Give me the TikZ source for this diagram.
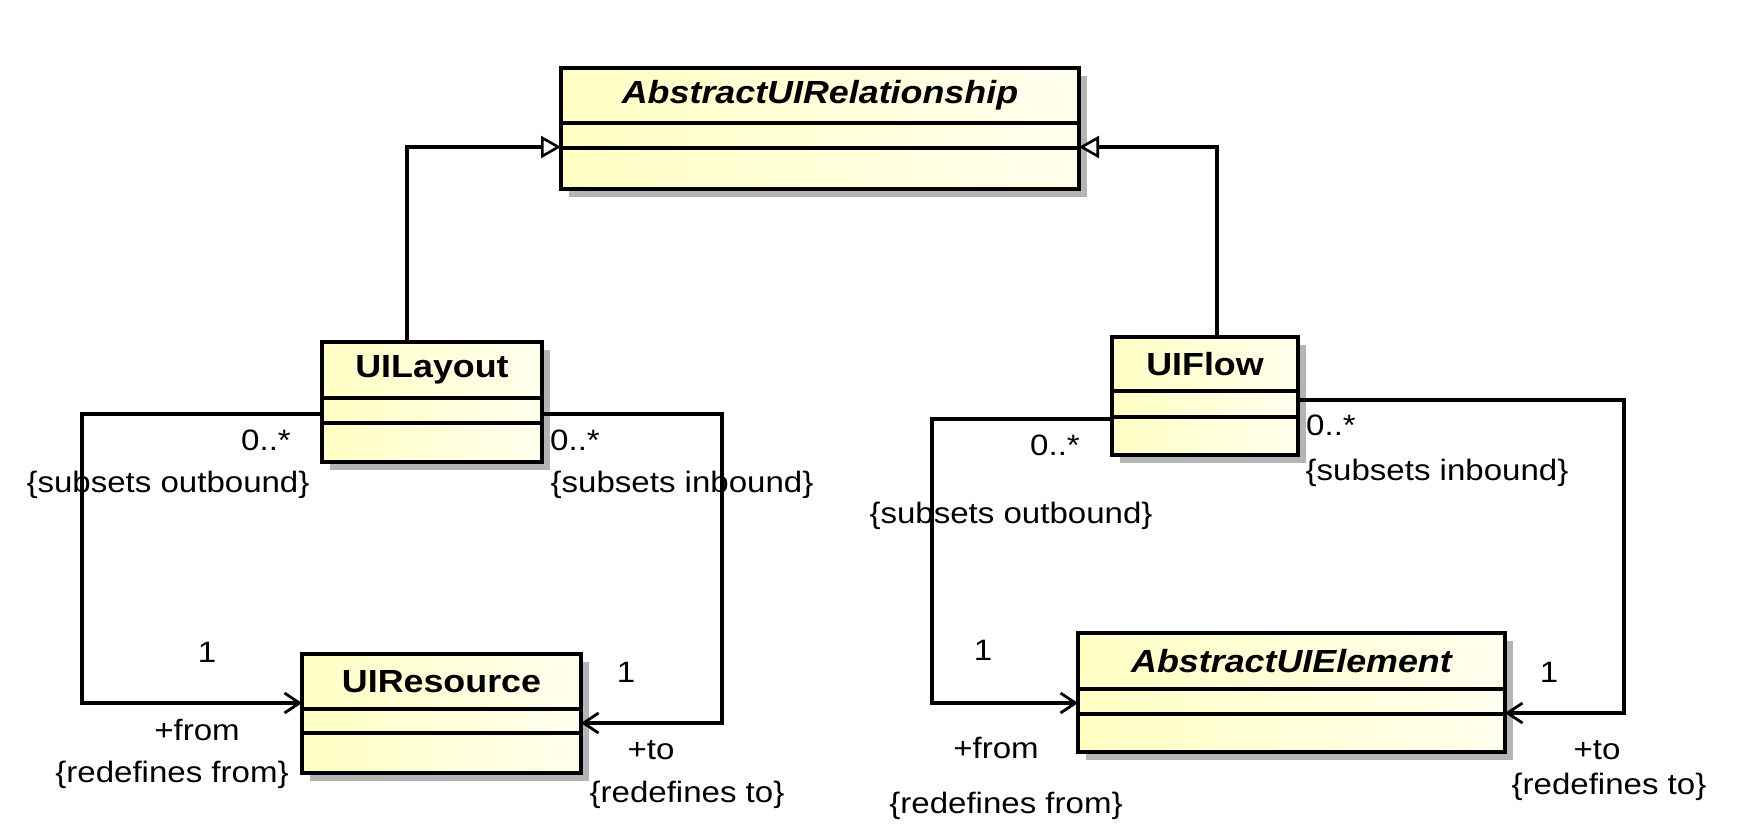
\documentclass[tikz,border=0pt]{standalone}
\usepackage{fontspec}
\newfontfamily\uml[FakeStretch=1.12]{Liberation Sans}
\usetikzlibrary{arrows.meta}
\definecolor{shadowc}{RGB}{180,180,180}
\definecolor{boxleft}{RGB}{255,255,196}
\definecolor{boxright}{RGB}{255,255,238}
\tikzset{
  classbox/.style={draw=black, line width=4.2pt, left color=boxleft, right color=boxright, inner sep=0pt, outer sep=0pt},
  sepline/.style={draw=black, line width=4pt},
  titlet/.style={font=\uml\fontsize{32}{36}\selectfont\bfseries, inner sep=0pt},
  titlei/.style={font=\uml\fontsize{32}{36}\selectfont\bfseries\itshape, inner sep=0pt},
  lbl/.style={font=\uml\fontsize{29.5}{34}\selectfont, inner sep=0pt},
  gen/.style={line width=3.4pt, -{Triangle[length=20pt,width=22pt,fill=white,line width=2.6pt]}},
  assoc/.style={line width=3.4pt, -{Straight Barb[length=15pt,width=20pt,line width=2.8pt]}},
}
\newcommand{\umlbox}[9]{%
  \fill[shadowc] (#2+8,#3+8) rectangle (#4+8,#5+8);
  \node[classbox, anchor=north west, minimum width={(#4-#2)*1pt}, minimum height={(#5-#3)*1pt}] (#1) at (#2,#3) {};
  \draw[sepline] (#1.west |- 0,#6) -- (#1.east |- 0,#6);
  \draw[sepline] (#1.west |- 0,#7) -- (#1.east |- 0,#7);
  \node[#8] (#1-title) at ({(#2+#4)/2},{(#3+#6)/2}) {#9};
}
\begin{document}
\begin{tikzpicture}[x=1pt,y=-1pt]
\useasboundingbox[fill=white] (0,0) rectangle (1755,823);

\umlbox{aur}{561}{68}{1079}{189}{123}{148}{titlei}{AbstractUIRelationship}
\umlbox{uilayout}{322}{342}{542}{462}{398}{423}{titlet}{UILayout}
\umlbox{uiresource}{302}{654}{581}{773}{709}{733}{titlet}{UIResource}
\umlbox{uiflow}{1112}{337}{1298}{455}{391}{417}{titlet}{UIFlow}
\umlbox{aue}{1078}{633}{1505}{752}{689}{714}{titlei}{AbstractUIElement}

% generalizations
\draw[gen] (uilayout.north -| 407,0) |- (aur.west |- 0,147);
\draw[gen] (uiflow.north -| 1217,0) |- (aur.east |- 0,147);

% associations
\draw[assoc] (uilayout.west |- 0,414) -| (82,703) -- (uiresource.west |- 0,703);
\draw[assoc] (uilayout.east |- 0,414) -| (722,723) -- (uiresource.east |- 0,723);
\draw[assoc] (uiflow.west |- 0,419) -| (932,703) -- (aue.west |- 0,703);
\draw[assoc] (uiflow.east |- 0,400) -| (1624,713) -- (aue.east |- 0,713);

% labels left
\node[lbl] (l1) at (266,440) {0..*};
\node[lbl] (l2) at (168,485) {\{subsets outbound\}};
\node[lbl] (l3) at (207,652) {1};
\node[lbl] (l4) at (197,730) {+from};
\node[lbl] (l5) at (172,775) {\{redefines from\}};
\node[lbl] (l6) at (575,440) {0..*};
\node[lbl] (l7) at (682,485) {\{subsets inbound\}};
\node[lbl] (l8) at (626,672) {1};
\node[lbl] (l9) at (651,750) {+to};
\node[lbl] (l10) at (687,795) {\{redefines to\}};
% labels right
\node[lbl] (r1) at (1055,445) {0..*};
\node[lbl] (r2) at (1011,516) {\{subsets outbound\}};
\node[lbl] (r3) at (983,650) {1};
\node[lbl] (r4) at (996,748) {+from};
\node[lbl] (r5) at (1006,806) {\{redefines from\}};
\node[lbl] (r6) at (1331,425) {0..*};
\node[lbl] (r7) at (1437,473) {\{subsets inbound\}};
\node[lbl] (r8) at (1549,672) {1};
\node[lbl] (r9) at (1597,750) {+to};
\node[lbl] (r10) at (1609,787) {\{redefines to\}};
\end{tikzpicture}
\end{document}
